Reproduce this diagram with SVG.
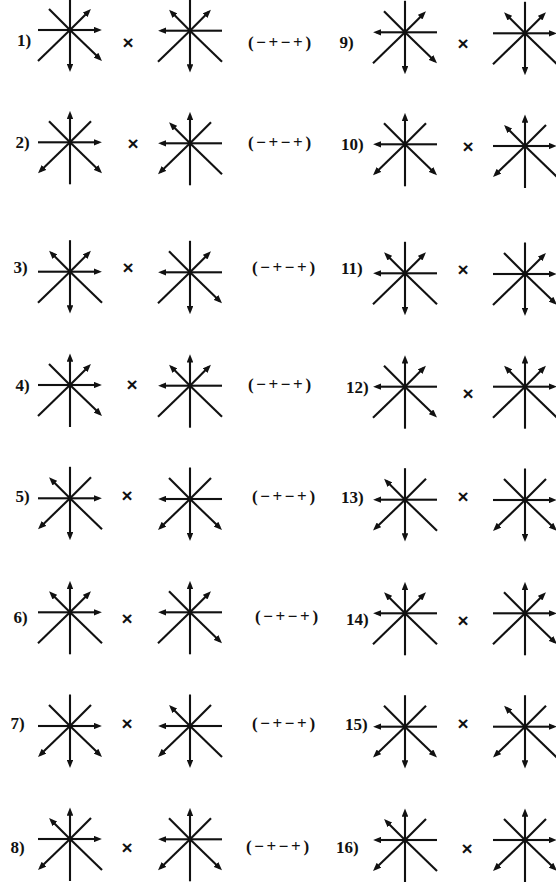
<svg xmlns="http://www.w3.org/2000/svg" xmlns:xlink="http://www.w3.org/1999/xlink" width="556" height="887" viewBox="0 0 556 887">
<style>
.r{stroke:#111;stroke-width:2.1;fill:none}
.a{stroke:#111;stroke-width:2.1;fill:none;marker-end:url(#ah)}
.lb{font-family:"Liberation Serif","Times New Roman",serif;font-weight:bold;font-size:17px;fill:#111}
.pm{font-family:"Liberation Serif","Times New Roman",serif;font-weight:bold;font-size:17px;fill:#111;letter-spacing:2.6px}
.x{font-family:"Liberation Sans",Arial,sans-serif;font-weight:bold;font-size:19px;fill:#111;text-anchor:middle}
.d{fill:#111}
</style>
<defs>
<marker id="ah" viewBox="0 0 10 8" refX="6" refY="4" markerWidth="8.5" markerHeight="6.6" markerUnits="userSpaceOnUse" orient="auto"><path d="M0,0 L10,4 L0,8 z" fill="#111"/></marker>
<line id="pN" class="r" x1="0" y1="0" x2="0" y2="-31.5"/>
<line id="pNE" class="r" x1="0" y1="0" x2="21" y2="-21"/>
<line id="pE" class="r" x1="0" y1="0" x2="32" y2="0"/>
<line id="pSE" class="r" x1="0" y1="0" x2="32" y2="31"/>
<line id="pS" class="r" x1="0" y1="0" x2="0" y2="42"/>
<line id="pSW" class="r" x1="0" y1="0" x2="-32" y2="31"/>
<line id="pW" class="r" x1="0" y1="0" x2="-32" y2="0"/>
<line id="pNW" class="r" x1="0" y1="0" x2="-21" y2="-21"/>
<line id="aN" class="a" x1="0" y1="0" x2="0" y2="-28.1"/>
<line id="aNE" class="a" x1="0" y1="0" x2="18.6" y2="-18.6"/>
<line id="aE" class="a" x1="0" y1="0" x2="28.6" y2="0"/>
<line id="aSE" class="a" x1="0" y1="0" x2="29.6" y2="28.6"/>
<line id="aS" class="a" x1="0" y1="0" x2="0" y2="38.6"/>
<line id="aSW" class="a" x1="0" y1="0" x2="-29.6" y2="28.6"/>
<line id="aW" class="a" x1="0" y1="0" x2="-28.6" y2="0"/>
<line id="aNW" class="a" x1="0" y1="0" x2="-18.6" y2="-18.6"/>
<circle id="dot" class="d" r="2.3"/>
</defs>
<rect width="556" height="887" fill="#fff"/>

<!-- Row 1 -->
<g id="star1a" transform="translate(70,30)"><use href="#pN"/><use href="#aNE"/><use href="#aE"/><use href="#aSE"/><use href="#aS"/><use href="#pSW"/><use href="#pW"/><use href="#pNW"/><use href="#dot"/></g>
<g id="star1b" transform="translate(190,30.7)"><use href="#pN"/><use href="#aNE"/><use href="#pE"/><use href="#pSE"/><use href="#aS"/><use href="#pSW"/><use href="#aW"/><use href="#aNW"/><use href="#dot"/></g>
<g id="star9a" transform="translate(405,32.3)"><use href="#pN"/><use href="#aNE"/><use href="#pE"/><use href="#aSE"/><use href="#aS"/><use href="#pSW"/><use href="#aW"/><use href="#pNW"/><use href="#dot"/></g>
<g id="star9b" transform="translate(525,33.3)"><use href="#pN"/><use href="#aNE"/><use href="#aE"/><use href="#pSE"/><use href="#aS"/><use href="#pSW"/><use href="#pW"/><use href="#aNW"/><use href="#dot"/></g>

<!-- Row 2 -->
<g id="star2a" transform="translate(70,142.3)"><use href="#aN"/><use href="#pNE"/><use href="#aE"/><use href="#aSE"/><use href="#pS"/><use href="#aSW"/><use href="#pW"/><use href="#pNW"/><use href="#dot"/></g>
<g id="star2b" transform="translate(190,143.3)"><use href="#aN"/><use href="#pNE"/><use href="#pE"/><use href="#pSE"/><use href="#pS"/><use href="#aSW"/><use href="#aW"/><use href="#aNW"/><use href="#dot"/></g>
<g id="star10a" transform="translate(405,144.3)"><use href="#aN"/><use href="#pNE"/><use href="#pE"/><use href="#aSE"/><use href="#pS"/><use href="#aSW"/><use href="#aW"/><use href="#pNW"/><use href="#dot"/></g>
<g id="star10b" transform="translate(525,146)"><use href="#aN"/><use href="#pNE"/><use href="#aE"/><use href="#pSE"/><use href="#pS"/><use href="#aSW"/><use href="#pW"/><use href="#aNW"/><use href="#dot"/></g>

<!-- Row 3 -->
<g id="star3a" transform="translate(70,271.7)"><use href="#pN"/><use href="#aNE"/><use href="#aE"/><use href="#pSE"/><use href="#aS"/><use href="#pSW"/><use href="#pW"/><use href="#aNW"/><use href="#dot"/></g>
<g id="star3b" transform="translate(190,272.3)"><use href="#pN"/><use href="#aNE"/><use href="#pE"/><use href="#aSE"/><use href="#aS"/><use href="#pSW"/><use href="#aW"/><use href="#pNW"/><use href="#dot"/></g>
<g id="star11a" transform="translate(405,273.3)"><use href="#pN"/><use href="#aNE"/><use href="#pE"/><use href="#pSE"/><use href="#aS"/><use href="#pSW"/><use href="#aW"/><use href="#aNW"/><use href="#dot"/></g>
<g id="star11b" transform="translate(525,274)"><use href="#pN"/><use href="#aNE"/><use href="#aE"/><use href="#aSE"/><use href="#aS"/><use href="#pSW"/><use href="#pW"/><use href="#pNW"/><use href="#dot"/></g>

<!-- Row 4 -->
<g id="star4a" transform="translate(70,385)"><use href="#aN"/><use href="#aNE"/><use href="#aE"/><use href="#aSE"/><use href="#pS"/><use href="#pSW"/><use href="#pW"/><use href="#pNW"/><use href="#dot"/></g>
<g id="star4b" transform="translate(190,385.7)"><use href="#aN"/><use href="#aNE"/><use href="#pE"/><use href="#pSE"/><use href="#pS"/><use href="#pSW"/><use href="#aW"/><use href="#aNW"/><use href="#dot"/></g>
<g id="star12a" transform="translate(405,386.7)"><use href="#aN"/><use href="#aNE"/><use href="#pE"/><use href="#aSE"/><use href="#pS"/><use href="#pSW"/><use href="#aW"/><use href="#pNW"/><use href="#dot"/></g>
<g id="star12b" transform="translate(525,386.7)"><use href="#aN"/><use href="#aNE"/><use href="#aE"/><use href="#pSE"/><use href="#pS"/><use href="#pSW"/><use href="#pW"/><use href="#aNW"/><use href="#dot"/></g>

<!-- Row 5 -->
<g id="star5a" transform="translate(70,498.3)"><use href="#pN"/><use href="#pNE"/><use href="#aE"/><use href="#pSE"/><use href="#aS"/><use href="#aSW"/><use href="#pW"/><use href="#aNW"/><use href="#dot"/></g>
<g id="star5b" transform="translate(190,499)"><use href="#pN"/><use href="#pNE"/><use href="#pE"/><use href="#aSE"/><use href="#aS"/><use href="#aSW"/><use href="#aW"/><use href="#pNW"/><use href="#dot"/></g>
<g id="star13a" transform="translate(405,499.7)"><use href="#pN"/><use href="#pNE"/><use href="#pE"/><use href="#pSE"/><use href="#aS"/><use href="#aSW"/><use href="#aW"/><use href="#aNW"/><use href="#dot"/></g>
<g id="star13b" transform="translate(525,500)"><use href="#pN"/><use href="#pNE"/><use href="#aE"/><use href="#aSE"/><use href="#aS"/><use href="#aSW"/><use href="#pW"/><use href="#pNW"/><use href="#dot"/></g>

<!-- Row 6 -->
<g id="star6a" transform="translate(70,612.3)"><use href="#aN"/><use href="#aNE"/><use href="#aE"/><use href="#pSE"/><use href="#pS"/><use href="#pSW"/><use href="#pW"/><use href="#aNW"/><use href="#dot"/></g>
<g id="star6b" transform="translate(190,612.3)"><use href="#aN"/><use href="#aNE"/><use href="#pE"/><use href="#aSE"/><use href="#pS"/><use href="#pSW"/><use href="#aW"/><use href="#pNW"/><use href="#dot"/></g>
<g id="star14a" transform="translate(405,613.3)"><use href="#aN"/><use href="#aNE"/><use href="#pE"/><use href="#pSE"/><use href="#pS"/><use href="#pSW"/><use href="#aW"/><use href="#aNW"/><use href="#dot"/></g>
<g id="star14b" transform="translate(525,613.3)"><use href="#aN"/><use href="#aNE"/><use href="#aE"/><use href="#aSE"/><use href="#pS"/><use href="#pSW"/><use href="#pW"/><use href="#pNW"/><use href="#dot"/></g>

<!-- Row 7 -->
<g id="star7a" transform="translate(70,726)"><use href="#pN"/><use href="#pNE"/><use href="#aE"/><use href="#aSE"/><use href="#aS"/><use href="#aSW"/><use href="#pW"/><use href="#pNW"/><use href="#dot"/></g>
<g id="star7b" transform="translate(190,726)"><use href="#pN"/><use href="#pNE"/><use href="#pE"/><use href="#pSE"/><use href="#aS"/><use href="#aSW"/><use href="#aW"/><use href="#aNW"/><use href="#dot"/></g>
<g id="star15a" transform="translate(405,726.7)"><use href="#pN"/><use href="#pNE"/><use href="#pE"/><use href="#aSE"/><use href="#aS"/><use href="#aSW"/><use href="#aW"/><use href="#pNW"/><use href="#dot"/></g>
<g id="star15b" transform="translate(525,726.7)"><use href="#pN"/><use href="#pNE"/><use href="#aE"/><use href="#pSE"/><use href="#aS"/><use href="#aSW"/><use href="#pW"/><use href="#aNW"/><use href="#dot"/></g>

<!-- Row 8 -->
<g id="star8a" transform="translate(70,839)"><use href="#aN"/><use href="#pNE"/><use href="#aE"/><use href="#pSE"/><use href="#pS"/><use href="#aSW"/><use href="#pW"/><use href="#aNW"/><use href="#dot"/></g>
<g id="star8b" transform="translate(190,839.3)"><use href="#aN"/><use href="#pNE"/><use href="#pE"/><use href="#aSE"/><use href="#pS"/><use href="#aSW"/><use href="#aW"/><use href="#pNW"/><use href="#dot"/></g>
<g id="star16a" transform="translate(405,840)"><use href="#aN"/><use href="#pNE"/><use href="#pE"/><use href="#pSE"/><use href="#pS"/><use href="#aSW"/><use href="#aW"/><use href="#aNW"/><use href="#dot"/></g>
<g id="star16b" transform="translate(525,840)"><use href="#aN"/><use href="#pNE"/><use href="#aE"/><use href="#aSE"/><use href="#pS"/><use href="#aSW"/><use href="#pW"/><use href="#pNW"/><use href="#dot"/></g>

<g id="labels">
<text class="lb" x="17" y="45.5">1)</text>
<text class="lb" x="15.5" y="147.5">2)</text>
<text class="lb" x="13.5" y="272.5">3)</text>
<text class="lb" x="15.5" y="390.5">4)</text>
<text class="lb" x="15.5" y="501.5">5)</text>
<text class="lb" x="13.5" y="622.5">6)</text>
<text class="lb" x="10.5" y="728.5">7)</text>
<text class="lb" x="10.5" y="852.5">8)</text>
<text class="lb" x="339.5" y="47.5">9)</text>
<text class="lb" x="341" y="149.5">10)</text>
<text class="lb" x="341" y="273.5">11)</text>
<text class="lb" x="346" y="392.5">12)</text>
<text class="lb" x="341" y="502.5">13)</text>
<text class="lb" x="346" y="624.5">14)</text>
<text class="lb" x="345" y="729.5">15)</text>
<text class="lb" x="336" y="852.5">16)</text>
</g>
<g id="signs">
<text class="pm" x="248" y="48">(−+−+)</text>
<text class="pm" x="248" y="148">(−+−+)</text>
<text class="pm" x="252" y="273">(−+−+)</text>
<text class="pm" x="248" y="390">(−+−+)</text>
<text class="pm" x="252" y="502">(−+−+)</text>
<text class="pm" x="255" y="622">(−+−+)</text>
<text class="pm" x="252" y="729">(−+−+)</text>
<text class="pm" x="246" y="852">(−+−+)</text>
</g>
<g id="times">
<text class="x" x="128" y="48.5">×</text>
<text class="x" x="133" y="149.5">×</text>
<text class="x" x="128" y="273.5">×</text>
<text class="x" x="132" y="390.5">×</text>
<text class="x" x="127" y="501.5">×</text>
<text class="x" x="127" y="624.5">×</text>
<text class="x" x="127" y="729.5">×</text>
<text class="x" x="127" y="853.5">×</text>
<text class="x" x="463" y="49.5">×</text>
<text class="x" x="468" y="152.5">×</text>
<text class="x" x="463" y="275.5">×</text>
<text class="x" x="468" y="399.5">×</text>
<text class="x" x="463" y="502.5">×</text>
<text class="x" x="463" y="626.5">×</text>
<text class="x" x="463" y="729.5">×</text>
<text class="x" x="467" y="854.5">×</text>
</g>
</svg>
